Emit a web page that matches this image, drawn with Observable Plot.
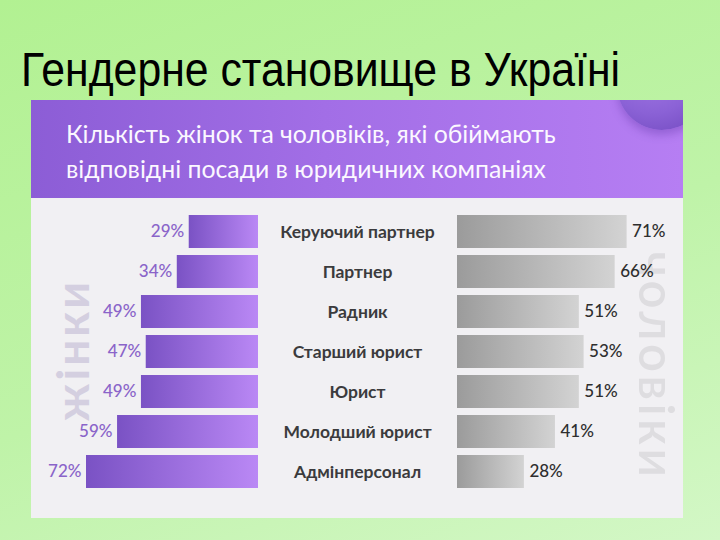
<!DOCTYPE html>
<html>
<head>
<meta charset="utf-8">
<script src="https://cdn.jsdelivr.net/npm/d3@7"></script>
<script src="https://cdn.jsdelivr.net/npm/@observablehq/plot@0.6"></script>
<style>
  html, body { margin: 0; padding: 0; }
  body {
    width: 720px; height: 540px; position: relative; overflow: hidden;
    background: linear-gradient(160deg, #b2f192 0%, #bff3a8 55%, #d3f7c6 100%);
    font-family: "Liberation Sans", Arial, sans-serif;
  }
  #title {
    position: absolute; left: 21px; top: 46px; margin: 0;
    font-family: "Liberation Sans", Arial, sans-serif; font-weight: normal;
    font-size: 48px; line-height: 48px; color: #000; white-space: nowrap;
    transform-origin: left top;
  }
  #card {
    position: absolute; left: 31px; top: 100px; width: 652px; height: 418px;
    background: #f1f0f3;
  }
  #header {
    position: relative; height: 98px; overflow: hidden;
    background: linear-gradient(90deg, #8c5dd6 0%, #a26ee6 45%, #b67ef3 100%);
  }
  #header .sphere {
    position: absolute; left: 586px; top: -60px; width: 90px; height: 90px; border-radius: 50%;
    background: radial-gradient(circle at 40% 30%, #a47ae6 0%, #8b62d6 55%, #6f47bd 100%);
    box-shadow: 0 5px 9px rgba(90,50,160,0.35);
  }
  #header .sub {
    position: absolute; left: 35px; top: 16px; color: #fbf8ff;
    font-family: Lato, "Open Sans", sans-serif; font-size: 24.8px; line-height: 35px;
    font-weight: 400; white-space: nowrap;
  }
  #plots { display: flex; flex-direction: row; position: relative; }
  .side {
    position: absolute; font-family: Lato, sans-serif; font-weight: 700;
    font-size: 46px; letter-spacing: 3px; white-space: nowrap; line-height: 46px;
  }
  #women { color: #d4cfe0; left: 41px; top: 250px; transform: translate(-50%, -50%) rotate(-90deg); }
  #men { color: #dedde0; left: 626px; top: 266px; font-size: 49px; line-height: 49px; letter-spacing: 3.5px;
         font-weight: 600; transform: translate(-50%, -50%) rotate(90deg); }
</style>
</head>
<body>
<h1 id="title">Гендерне становище в Україні</h1>
<div id="card">
  <div id="header">
    <div class="sphere"></div>
    <div class="sub">Кількість жінок та чоловіків, які обіймають<br>відповідні посади в юридичних компаніях</div>
  </div>
  <div class="side" id="women">жінки</div>
  <div class="side" id="men">чоловіки</div>
  <div id="plots"></div>
</div>
<script>
const categories = ["Керуючий партнер", "Партнер", "Радник", "Старший юрист", "Юрист", "Молодший юрист", "Адмінперсонал"];
const womenPct = [29, 34, 49, 47, 49, 59, 72];
const menPct = [71, 66, 51, 53, 51, 41, 28];

const rows = categories.map((c, i) => ({cat: c, w: womenPct[i], m: menPct[i]}));

const H = 318, MT = 8, MB = 20;
const yScale = {domain: categories, padding: 0.18};

function addGradient(svg, id, c0, c1) {
  const ns = "http://www.w3.org/2000/svg";
  const defs = document.createElementNS(ns, "defs");
  const g = document.createElementNS(ns, "linearGradient");
  g.setAttribute("id", id);
  g.setAttribute("x1", "0"); g.setAttribute("x2", "1");
  g.setAttribute("y1", "0"); g.setAttribute("y2", "0");
  [[0, c0], [1, c1]].forEach(([o, c]) => {
    const s = document.createElementNS(ns, "stop");
    s.setAttribute("offset", o); s.setAttribute("stop-color", c);
    g.appendChild(s);
  });
  defs.appendChild(g);
  svg.insertBefore(defs, svg.firstChild);
}

const women = Plot.plot({
  width: 227, height: H,
  marginLeft: 55, marginRight: 0, marginTop: MT, marginBottom: MB,
  style: {background: "transparent", overflow: "visible"},
  x: {domain: [0, 72], reverse: true, axis: null},
  y: {...yScale, axis: null},
  marks: [
    Plot.barX(rows, {x: "w", y: "cat", fill: "url(#gradW)"}),
    Plot.text(rows, {x: "w", y: "cat", text: d => d.w + "%", textAnchor: "end", dx: -5,
      fill: "#8a64c9", fontSize: 17, fontFamily: "Lato, sans-serif", fontWeight: 500})
  ]
});
addGradient(women, "gradW", "#7a52c4", "#ba88f5");

const men = Plot.plot({
  width: 425, height: H,
  marginLeft: 199, marginRight: 54, marginTop: MT, marginBottom: MB,
  style: {background: "transparent", overflow: "visible"},
  x: {domain: [0, 72], axis: null},
  y: {...yScale, axis: null},
  marks: [
    Plot.barX(rows, {x: "m", y: "cat", fill: "url(#gradM)"}),
    Plot.text(rows, {x: "m", y: "cat", text: d => d.m + "%", textAnchor: "start", dx: 5,
      fill: "#2e2e2e", fontSize: 17, fontFamily: "Lato, sans-serif", fontWeight: 500}),
    Plot.text(rows, {y: "cat", text: "cat", frameAnchor: "left", dx: -100, textAnchor: "middle",
      fill: "#3b3b3d", fontSize: 17.5, fontFamily: "Lato, sans-serif", fontWeight: 700})
  ]
});
addGradient(men, "gradM", "#9b9b9b", "#d3d3d3");

const plots = document.getElementById("plots");
plots.appendChild(women);
plots.appendChild(men);

// fit title width to reference
const t = document.getElementById("title");
const w = t.getBoundingClientRect().width;
t.style.transform = `scaleX(${599 / w})`;
</script>
</body>
</html>
